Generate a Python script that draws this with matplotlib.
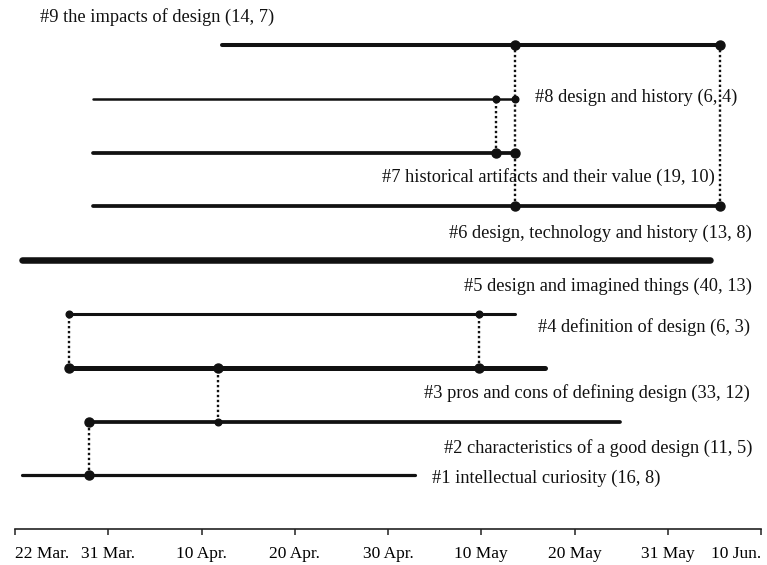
import matplotlib
matplotlib.use("Agg")
from matplotlib import pyplot as plt

# topics, counts and time spans (x in tick units: 0 = 22 Mar., 8 = 10 Jun.)
topics = ["intellectual curiosity", "characteristics of a good design",
          "pros and cons of defining design", "definition of design",
          "design and imagined things", "design, technology and history",
          "historical artifacts and their value", "design and history",
          "the impacts of design"]
count_a = [16, 11, 33, 6, 40, 13, 19, 6, 14]
count_b = [8, 5, 12, 3, 13, 8, 10, 4, 7]
span_start = [0.08, 0.79, 0.58, 0.58, 0.08, 0.84, 0.84, 0.84, 2.22]
span_end = [4.29, 6.49, 5.68, 5.36, 7.45, 7.56, 5.36, 5.36, 7.56]
tick_labels = ["22 Mar.", "31 Mar.", "10 Apr.", "20 Apr.", "30 Apr.",
               "10 May", "20 May", "31 May", "10 Jun."]

# dots: (topic number, x position, big?)
dot_topic = [1, 2, 2, 3, 3, 3, 4, 4, 6, 6, 7, 7, 8, 8, 9, 9]
dot_x = [0.79, 0.79, 2.18, 0.58, 2.18, 4.98, 0.58, 4.98, 5.36, 7.56,
         5.16, 5.36, 5.16, 5.36, 5.36, 7.56]
dot_big = [1, 1, 0, 1, 1, 1, 0, 0, 1, 1, 1, 1, 0, 0, 1, 1]

# dotted links: x, from topic, to topic
link_x = [0.79, 2.18, 0.58, 4.98, 5.36, 5.16, 7.56]
link_lo = [1, 2, 3, 3, 6, 7, 6]
link_hi = [2, 3, 4, 4, 9, 8, 9]

widths = [2.3, 2.7, 3.6, 2.2, 4.7, 2.7, 2.7, 1.8, 2.9]

fig = plt.figure(figsize=(7.67, 5.65), dpi=100)
px_unit = 93.25
row_px = 53.75
ax = fig.add_axes([15 / 767, 1 - 529 / 565, 746 / 767, 529 / 565])
ax.set_xlim(0, 8)
ax.set_ylim(0, 529 / row_px)

for k in range(len(topics)):
    n = k + 1
    ax.plot([span_start[k], span_end[k]], [n, n], color="#111111",
            lw=widths[k], solid_capstyle="round", zorder=2)

for x, lo, hi in zip(link_x, link_lo, link_hi):
    ax.plot([x, x], [lo, hi], color="#111111", lw=1.7,
            linestyle=(0, (1, 1.1)), zorder=1)

for n, x, big in zip(dot_topic, dot_x, dot_big):
    ax.plot(x, n, "o", color="#111111", ms=6.5 if big else 4.8, zorder=3)


def to_data(px, py):
    return (px - 15) / px_unit, 1 + (475 - py) / row_px


label_pos = [(432, 478, "left"), (752, 448, "right"), (750, 393, "right"),
             (750, 327, "right"), (752, 286, "right"), (752, 233, "right"),
             (548, 177, "center"), (535, 97, "left"), (40, 17, "left")]
for k in range(len(topics)):
    text = "#%d %s (%d, %d)" % (k + 1, topics[k], count_a[k], count_b[k])
    px, py, ha = label_pos[k]
    x, y = to_data(px, py)
    ax.text(x, y, text, ha=ha, va="center", fontsize=13.2,
            family="Liberation Serif", color="#111111", zorder=4)

for s in ["top", "left", "right"]:
    ax.spines[s].set_visible(False)
ax.spines["bottom"].set_linewidth(1.2)
ax.spines["bottom"].set_color("#222222")
ax.set_yticks([])
ax.set_xticks(range(9))
ax.set_xticklabels(tick_labels, family="Liberation Serif", fontsize=12.5)
ax.tick_params(axis="x", direction="out", length=4, width=1.1,
               color="#222222", pad=8)
tls = ax.get_xticklabels()
tls[0].set_horizontalalignment("left")
tls[-1].set_horizontalalignment("right")

fig.savefig("out.png", dpi=100)
